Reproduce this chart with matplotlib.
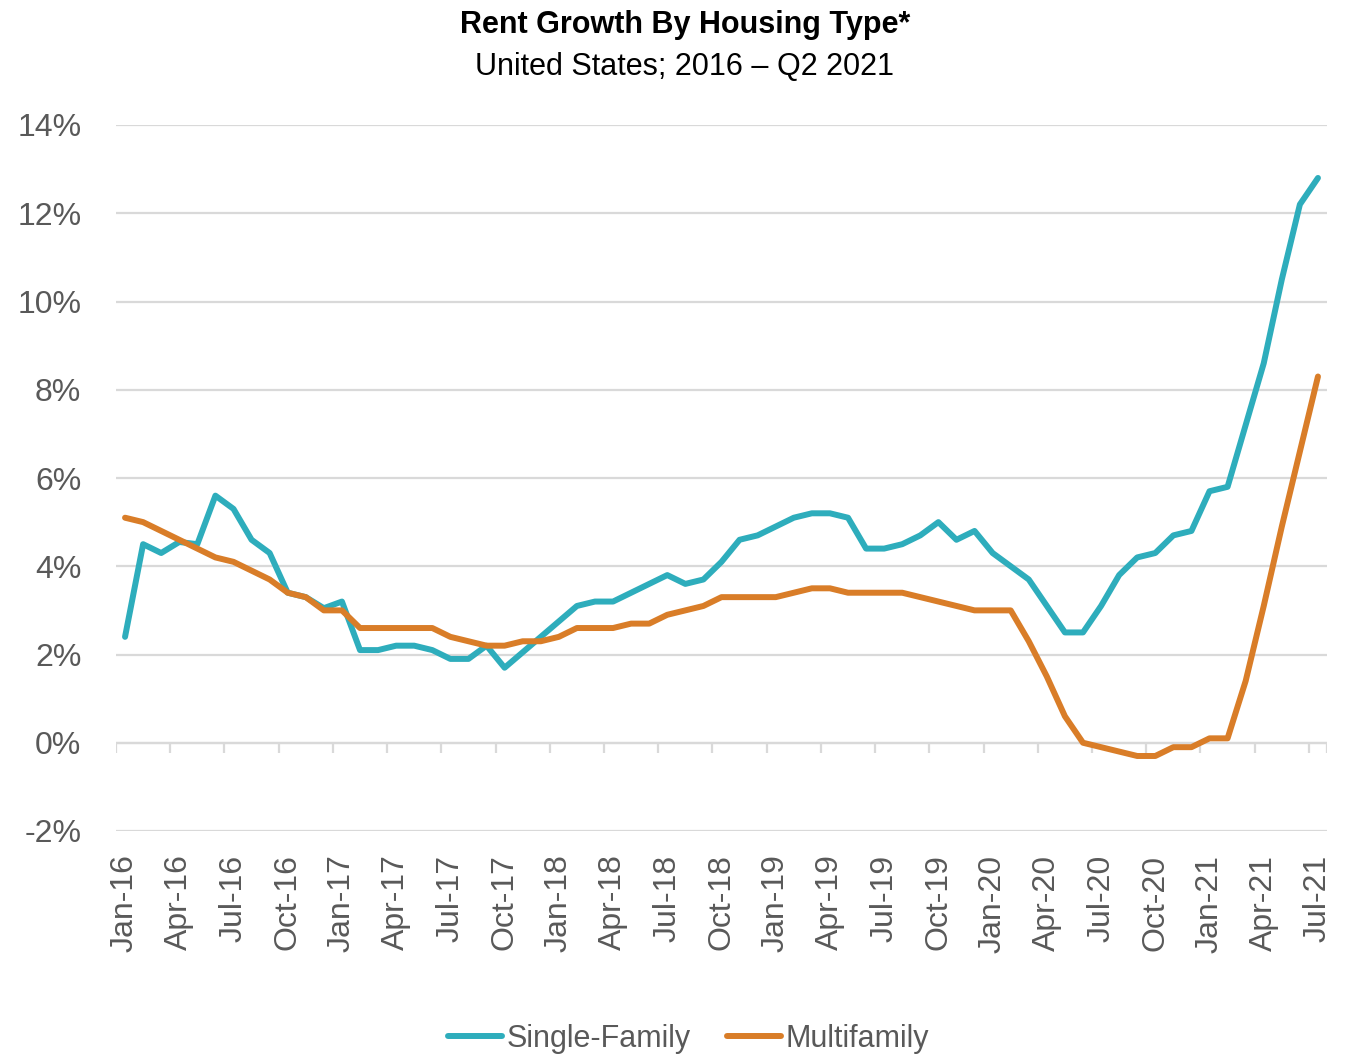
import matplotlib
matplotlib.use("Agg")
import matplotlib.pyplot as plt

plt.rcParams['font.family'] = ['Liberation Sans', 'DejaVu Sans']

# monthly, Jan-16 .. Jul-21
months = ["Jan", "Feb", "Mar", "Apr", "May", "Jun", "Jul", "Aug", "Sep", "Oct", "Nov", "Dec"]
labels = [f"{months[m]}-{y}" for y in range(16, 22) for m in range(12)][:67]

single_family = [2.4, 4.5, 4.3, 4.55, 4.5, 5.6, 5.3, 4.6, 4.3, 3.4,
                 3.3, 3.05, 3.2, 2.1, 2.1, 2.2, 2.2, 2.1, 1.9, 1.9,
                 2.2, 1.7, 2.05, 2.4, 2.75, 3.1, 3.2, 3.2, 3.4, 3.6,
                 3.8, 3.6, 3.7, 4.1, 4.6, 4.7, 4.9, 5.1, 5.2, 5.2,
                 5.1, 4.4, 4.4, 4.5, 4.7, 5.0, 4.6, 4.8, 4.3, 4.0,
                 3.7, 3.1, 2.5, 2.5, 3.1, 3.8, 4.2, 4.3, 4.7, 4.8,
                 5.7, 5.8, 7.2, 8.6, 10.5, 12.2, 12.8]

multifamily = [5.1, 5.0, 4.8, 4.6, 4.4, 4.2, 4.1, 3.9, 3.7, 3.4,
               3.3, 3.0, 3.0, 2.6, 2.6, 2.6, 2.6, 2.6, 2.4, 2.3,
               2.2, 2.2, 2.3, 2.3, 2.4, 2.6, 2.6, 2.6, 2.7, 2.7,
               2.9, 3.0, 3.1, 3.3, 3.3, 3.3, 3.3, 3.4, 3.5, 3.5,
               3.4, 3.4, 3.4, 3.4, 3.3, 3.2, 3.1, 3.0, 3.0, 3.0,
               2.3, 1.5, 0.6, 0.0, -0.1, -0.2, -0.3, -0.3, -0.1, -0.1,
               0.1, 0.1, 1.4, 3.1, 4.9, 6.6, 8.3]

teal = "#2EADBC"
orange = "#D97D28"
grey = "#595959"

fig = plt.figure(figsize=(13.56, 10.6), dpi=100)
ax = fig.add_axes([116/1356, 1 - 831/1060, (1327-116)/1356, (831-125)/1060])

x = list(range(len(labels)))
ax.plot(x, single_family, color=teal, lw=4.3, solid_joinstyle='round', solid_capstyle='round', label="Single-Family", zorder=3)
ax.plot(x, multifamily, color=orange, lw=4.3, solid_joinstyle='round', solid_capstyle='round', label="Multifamily", zorder=3)

ax.set_xlim(-0.5, len(labels) - 0.5)
ax.set_ylim(-2, 14)
ax.set_yticks(range(-2, 15, 2))
ax.set_yticklabels([f"{v}%" for v in range(-2, 15, 2)])
ax.yaxis.grid(True, color="#d9d9d9", lw=1.6)
ax.set_axisbelow(True)

ax.set_xticks(x[::3])
ax.set_xticklabels(labels[::3], rotation=90, va='top', ha='center')
ax.tick_params(axis='x', length=0, pad=17, labelsize=23, labelcolor=grey)
ax.tick_params(axis='y', length=0, pad=25, labelsize=23, labelcolor=grey)
for s in ax.spines.values():
    s.set_visible(False)

# category axis at 0% with tick marks between quarters
ax.axhline(0, color="#d9d9d9", lw=1.6, zorder=1)
ax.vlines([i - 0.5 for i in x[::3]] + [len(labels) - 0.5], -0.23, 0, color="#d9d9d9", lw=1.6, zorder=1)

fig.text(0.505, 0.976, "Rent Growth By Housing Type*", ha='center', va='center',
         fontsize=22, fontweight='bold', color='black')
fig.text(0.505, 0.937, "United States; 2016 \u2013 Q2 2021", ha='center', va='center',
         fontsize=22, color='black')

leg = fig.legend(loc='lower center', bbox_to_anchor=(0.508, -0.02), ncol=2, frameon=False,
                 fontsize=22, handlelength=1.75, handletextpad=0.16, columnspacing=1.2)
for t in leg.get_texts():
    t.set_color(grey)

fig.savefig("out.png", dpi=100)
